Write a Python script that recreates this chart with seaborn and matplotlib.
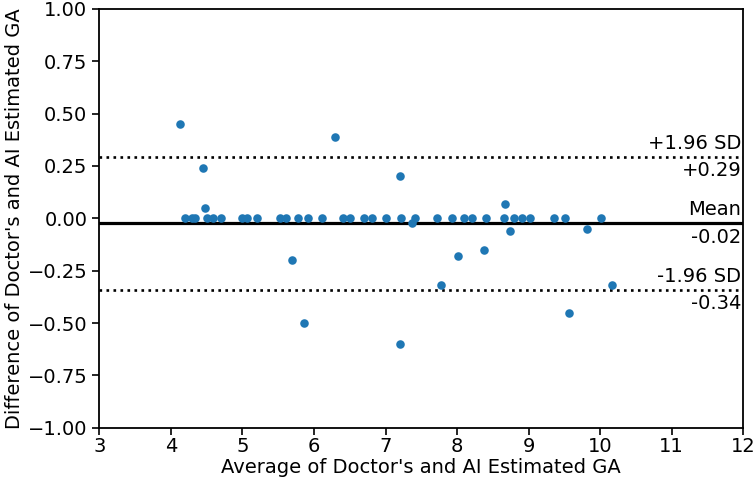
import matplotlib
matplotlib.use("Agg")
import matplotlib.pyplot as plt
import seaborn as sns
import pandas as pd

# Data
avg_zero = [4.20, 4.29, 4.34, 4.50, 4.59, 4.70, 5.00, 5.07, 5.21, 5.52, 5.61, 5.78,
            5.91, 6.11, 6.40, 6.50, 6.70, 6.81, 7.01, 7.21, 7.41, 7.72, 7.93, 8.10,
            8.21, 8.40, 8.65, 8.80, 8.91, 9.02, 9.35, 9.51, 10.01]
avg_nonzero = [4.13, 4.45, 4.48, 5.70, 5.86, 6.30, 7.37, 7.20, 8.67, 8.74, 8.38,
               8.01, 7.77, 7.20, 9.57, 9.82, 10.16]
diff_nonzero = [0.45, 0.24, 0.05, -0.20, -0.50, 0.39, -0.02, 0.20, 0.07, -0.06, -0.15,
                -0.18, -0.32, -0.60, -0.45, -0.05, -0.32]

mean_diff = -0.024
upper_loa = 0.294
lower_loa = -0.342
line_labels = ["+1.96 SD", "Mean", "-1.96 SD"]
value_labels = ["+0.29", "-0.02", "-0.34"]
x_ticks = list(range(3, 13))
y_ticks = [-1.0, -0.75, -0.5, -0.25, 0.0, 0.25, 0.5, 0.75, 1.0]

xs = avg_zero + avg_nonzero
ys = [0.0] * len(avg_zero) + diff_nonzero
df = pd.DataFrame({"avg": xs, "diff": ys})

FS = 14
fig = plt.figure(figsize=(7.56, 4.88), dpi=100)
ax = fig.add_axes([0.1313, 0.1236, 0.8519, 0.858])

sns.scatterplot(data=df, x="avg", y="diff", ax=ax, color="#1f77b4", s=38,
                linewidth=0, zorder=3)

ax.axhline(mean_diff, color="black", lw=2.3, zorder=2)
ax.axhline(upper_loa, color="black", lw=1.9, ls=":", zorder=2)
ax.axhline(lower_loa, color="black", lw=1.9, ls=":", zorder=2)

trans = ax.get_yaxis_transform()
for yv, top_txt, bot_txt in zip([upper_loa, mean_diff, lower_loa], line_labels, value_labels):
    ax.annotate(top_txt, xy=(0.997, yv), xycoords=trans, xytext=(0, 3),
                textcoords="offset points", ha="right", va="bottom", fontsize=FS)
    ax.annotate(bot_txt, xy=(0.997, yv), xycoords=trans, xytext=(0, -3),
                textcoords="offset points", ha="right", va="top", fontsize=FS)

ax.set_xlim(3, 12)
ax.set_ylim(-1, 1)
ax.set_xticks(x_ticks)
ax.set_yticks(y_ticks)
ax.tick_params(labelsize=FS, length=5, width=1.2)
ax.tick_params(axis="x", pad=2)
for sp in ax.spines.values():
    sp.set_linewidth(1.3)
ax.set_xlabel("Average of Doctor's and AI Estimated GA", fontsize=FS, labelpad=1)
ax.set_ylabel("Difference of Doctor's and AI Estimated GA", fontsize=FS, labelpad=3)

fig.savefig("out.png", dpi=100)
